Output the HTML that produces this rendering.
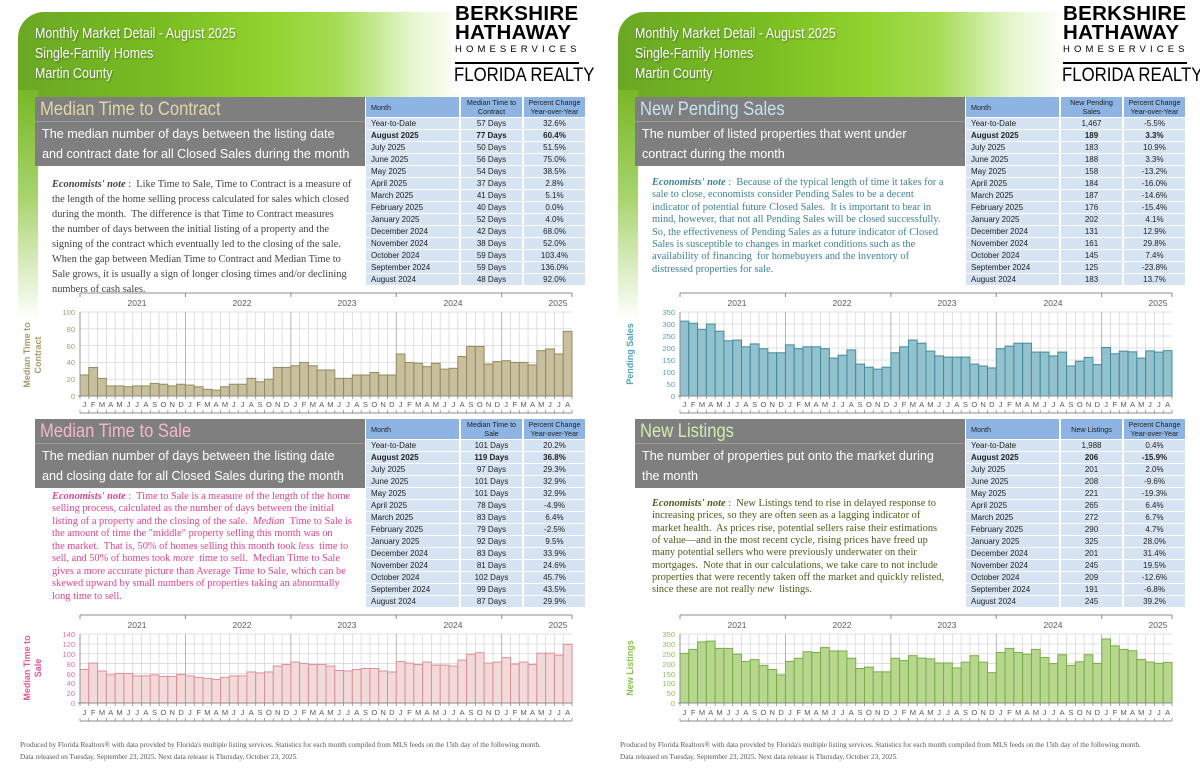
<!DOCTYPE html>
<html><head><meta charset="utf-8">
<style>
*{margin:0;padding:0;box-sizing:border-box}
body{width:1200px;height:776px;background:#fff;position:relative;overflow:hidden;font-family:"Liberation Sans",sans-serif}
.hdr{position:absolute;top:12px;width:445px;height:86px;border-top-left-radius:26px;
 background:linear-gradient(90deg,#6aa825 0%,#78bb22 30%,#8fd22c 55%,#a6dc55 72%,rgba(200,235,150,0.5) 88%,rgba(255,255,255,0) 100%)}
.strip{position:absolute;top:90px;width:20px;height:230px;background:linear-gradient(180deg,#78b826 0%,#a6d36a 45%,rgba(255,255,255,0) 100%)}
.htxt{position:absolute;top:24px;color:#fff;font-size:15px;line-height:20px;text-shadow:1px 1px 2px rgba(0,0,0,.35);transform:scaleX(0.83);transform-origin:0 0;white-space:nowrap}
.logo{position:absolute;top:0;width:145px;height:92px;background:#fff}
.logo .b{position:absolute;left:0;font-weight:bold;font-size:20.5px;letter-spacing:.3px;color:#000;line-height:20px;white-space:nowrap}
.logo .hs{position:absolute;left:0;top:44px;font-size:9.5px;letter-spacing:4.1px;color:#000;white-space:nowrap}
.logo .ln{position:absolute;left:0;top:62px;width:124px;height:1.5px;background:#000}
.logo .fr{position:absolute;left:-1px;top:64px;font-size:19.5px;color:#000;white-space:nowrap;transform:scaleX(0.86);transform-origin:0 0}
.gbox{position:absolute;width:330px;height:69px;background:#7f7f7f}
.gbox .t{position:absolute;left:5px;top:1px;font-size:19.5px;transform:scaleX(0.85);transform-origin:0 0;white-space:nowrap}
.gbox .tl{position:absolute;left:0;right:0;top:24px;height:1px;background:#999}
.gbox .s{position:absolute;left:7px;top:28px;color:#fff;font-size:12.6px;line-height:19.5px;white-space:nowrap}
table{position:absolute;border-collapse:separate;border-spacing:2px 1px;font-size:8px;color:#222}
td{background:#d6e3f3;height:11px;text-align:center;padding:0;line-height:11px;white-space:nowrap}
td:first-child{text-align:left;padding-left:5px;width:93px}
td:nth-child(2),td:nth-child(3){width:61px}
th{background:#8db4e2;font-weight:normal;height:20px;line-height:9px;font-size:7.2px;padding:0}
th:first-child{text-align:left;padding-left:5px}
tr.bd td{font-weight:bold}
.note{position:absolute;font-family:"Liberation Serif",serif;font-size:10.4px;white-space:nowrap}
.foot{position:absolute;font-family:"Liberation Serif",serif;font-size:7.2px;color:#555;line-height:12px;white-space:nowrap}
svg{position:absolute;left:0;top:0}
</style></head><body>

<div class="hdr" style="left:18px"></div>
<div class="strip" style="left:18px"></div>
<div class="hdr" style="left:618px"></div>
<div class="strip" style="left:618px"></div>

<div class="htxt" style="left:35px">Monthly Market Detail - August 2025<br>Single-Family Homes<br>Martin County</div>
<div class="htxt" style="left:635px">Monthly Market Detail - August 2025<br>Single-Family Homes<br>Martin County</div>

<div class="logo" style="left:452px"><div class="b" style="top:4px;left:3px">BERKSHIRE</div><div class="b" style="top:23px;left:3px">HATHAWAY</div><div class="hs" style="left:3px">HOMESERVICES</div><div class="ln" style="left:3px"></div><div class="fr" style="left:2px">FLORIDA REALTY</div></div>
<div class="logo" style="left:1060px"><div class="b" style="top:4px;left:3px">BERKSHIRE</div><div class="b" style="top:23px;left:3px">HATHAWAY</div><div class="hs" style="left:3px">HOMESERVICES</div><div class="ln" style="left:3px"></div><div class="fr" style="left:2px">FLORIDA REALTY</div></div>

<div class="gbox" style="left:35px;top:97px"><div class="t" style="color:#e0d6a6">Median Time to Contract</div><div class="tl"></div><div class="s">The median number of days between the listing date<br>and contract date for all Closed Sales during the month</div></div>
<div class="gbox" style="left:635px;top:97px"><div class="t" style="color:#c4e3f0">New Pending Sales</div><div class="tl"></div><div class="s">The number of listed properties that went under<br>contract during the month</div></div>
<div class="gbox" style="left:35px;top:419px"><div class="t" style="color:#f4b6d0">Median Time to Sale</div><div class="tl"></div><div class="s">The median number of days between the listing date<br>and closing date for all Closed Sales during the month</div></div>
<div class="gbox" style="left:635px;top:419px"><div class="t" style="color:#d3eab0">New Listings</div><div class="tl"></div><div class="s">The number of properties put onto the market during<br>the month</div></div>

<table style="left:364px;top:96px">
<tr><th>Month</th><th>Median Time to<br>Contract</th><th>Percent Change<br>Year-over-Year</th></tr>
<tr><td>Year-to-Date</td><td>57 Days</td><td>32.6%</td></tr>
<tr class="bd"><td>August 2025</td><td>77 Days</td><td>60.4%</td></tr>
<tr><td>July 2025</td><td>50 Days</td><td>51.5%</td></tr>
<tr><td>June 2025</td><td>56 Days</td><td>75.0%</td></tr>
<tr><td>May 2025</td><td>54 Days</td><td>38.5%</td></tr>
<tr><td>April 2025</td><td>37 Days</td><td>2.8%</td></tr>
<tr><td>March 2025</td><td>41 Days</td><td>5.1%</td></tr>
<tr><td>February 2025</td><td>40 Days</td><td>0.0%</td></tr>
<tr><td>January 2025</td><td>52 Days</td><td>4.0%</td></tr>
<tr><td>December 2024</td><td>42 Days</td><td>68.0%</td></tr>
<tr><td>November 2024</td><td>38 Days</td><td>52.0%</td></tr>
<tr><td>October 2024</td><td>59 Days</td><td>103.4%</td></tr>
<tr><td>September 2024</td><td>59 Days</td><td>136.0%</td></tr>
<tr><td>August 2024</td><td>48 Days</td><td>92.0%</td></tr>
</table>
<table style="left:964px;top:96px">
<tr><th>Month</th><th>New Pending Sales</th><th>Percent Change<br>Year-over-Year</th></tr>
<tr><td>Year-to-Date</td><td>1,467</td><td>-5.5%</td></tr>
<tr class="bd"><td>August 2025</td><td>189</td><td>3.3%</td></tr>
<tr><td>July 2025</td><td>183</td><td>10.9%</td></tr>
<tr><td>June 2025</td><td>188</td><td>3.3%</td></tr>
<tr><td>May 2025</td><td>158</td><td>-13.2%</td></tr>
<tr><td>April 2025</td><td>184</td><td>-16.0%</td></tr>
<tr><td>March 2025</td><td>187</td><td>-14.6%</td></tr>
<tr><td>February 2025</td><td>176</td><td>-15.4%</td></tr>
<tr><td>January 2025</td><td>202</td><td>4.1%</td></tr>
<tr><td>December 2024</td><td>131</td><td>12.9%</td></tr>
<tr><td>November 2024</td><td>161</td><td>29.8%</td></tr>
<tr><td>October 2024</td><td>145</td><td>7.4%</td></tr>
<tr><td>September 2024</td><td>125</td><td>-23.8%</td></tr>
<tr><td>August 2024</td><td>183</td><td>13.7%</td></tr>
</table>
<table style="left:364px;top:418px">
<tr><th>Month</th><th>Median Time to Sale</th><th>Percent Change<br>Year-over-Year</th></tr>
<tr><td>Year-to-Date</td><td>101 Days</td><td>20.2%</td></tr>
<tr class="bd"><td>August 2025</td><td>119 Days</td><td>36.8%</td></tr>
<tr><td>July 2025</td><td>97 Days</td><td>29.3%</td></tr>
<tr><td>June 2025</td><td>101 Days</td><td>32.9%</td></tr>
<tr><td>May 2025</td><td>101 Days</td><td>32.9%</td></tr>
<tr><td>April 2025</td><td>78 Days</td><td>-4.9%</td></tr>
<tr><td>March 2025</td><td>83 Days</td><td>6.4%</td></tr>
<tr><td>February 2025</td><td>79 Days</td><td>-2.5%</td></tr>
<tr><td>January 2025</td><td>92 Days</td><td>9.5%</td></tr>
<tr><td>December 2024</td><td>83 Days</td><td>33.9%</td></tr>
<tr><td>November 2024</td><td>81 Days</td><td>24.6%</td></tr>
<tr><td>October 2024</td><td>102 Days</td><td>45.7%</td></tr>
<tr><td>September 2024</td><td>99 Days</td><td>43.5%</td></tr>
<tr><td>August 2024</td><td>87 Days</td><td>29.9%</td></tr>
</table>
<table style="left:964px;top:418px">
<tr><th>Month</th><th>New Listings</th><th>Percent Change<br>Year-over-Year</th></tr>
<tr><td>Year-to-Date</td><td>1,988</td><td>0.4%</td></tr>
<tr class="bd"><td>August 2025</td><td>206</td><td>-15.9%</td></tr>
<tr><td>July 2025</td><td>201</td><td>2.0%</td></tr>
<tr><td>June 2025</td><td>208</td><td>-9.6%</td></tr>
<tr><td>May 2025</td><td>221</td><td>-19.3%</td></tr>
<tr><td>April 2025</td><td>265</td><td>6.4%</td></tr>
<tr><td>March 2025</td><td>272</td><td>6.7%</td></tr>
<tr><td>February 2025</td><td>290</td><td>4.7%</td></tr>
<tr><td>January 2025</td><td>325</td><td>28.0%</td></tr>
<tr><td>December 2024</td><td>201</td><td>31.4%</td></tr>
<tr><td>November 2024</td><td>245</td><td>19.5%</td></tr>
<tr><td>October 2024</td><td>209</td><td>-12.6%</td></tr>
<tr><td>September 2024</td><td>191</td><td>-6.8%</td></tr>
<tr><td>August 2024</td><td>245</td><td>39.2%</td></tr>
</table>

<div class="note" style="left:52px;top:177px;line-height:15px;color:#444">
<b><i>Economists' note</i></b> :&nbsp; Like Time to Sale, Time to Contract is a measure of<br>
the length of the home selling process calculated for sales which closed<br>
during the month.&nbsp; The difference is that Time to Contract measures<br>
the number of days between the initial listing of a property and the<br>
signing of the contract which eventually led to the closing of the sale.<br>
When the gap between Median Time to Contract and Median Time to<br>
Sale grows, it is usually a sign of longer closing times and/or declining<br>
numbers of cash sales.</div>
<div class="note" style="left:652px;top:177px;line-height:12.4px;color:#3d8291">
<b><i>Economists' note</i></b> :&nbsp; Because of the typical length of time it takes for a<br>
sale to close, economists consider Pending Sales to be a decent<br>
indicator of potential future Closed Sales.&nbsp; It is important to bear in<br>
mind, however, that not all Pending Sales will be closed successfully.<br>
So, the effectiveness of Pending Sales as a future indicator of Closed<br>
Sales is susceptible to changes in market conditions such as the<br>
availability of financing&nbsp; for homebuyers and the inventory of<br>
distressed properties for sale.</div>
<div class="note" style="left:52px;top:491px;line-height:12.45px;color:#e0458f">
<b><i>Economists' note</i></b> :&nbsp; Time to Sale is a measure of the length of the home<br>
selling process, calculated as the number of days between the initial<br>
listing of a property and the closing of the sale.&nbsp; <i>Median</i>&nbsp; Time to Sale is<br>
the amount of time the "middle" property selling this month was on<br>
the market.&nbsp; That is, 50% of homes selling this month took <i>less</i>&nbsp; time to<br>
sell, and 50% of homes took <i>more</i>&nbsp; time to sell.&nbsp; Median Time to Sale<br>
gives a more accurate picture than Average Time to Sale, which can be<br>
skewed upward by small numbers of properties taking an abnormally<br>
long time to sell.</div>
<div class="note" style="left:652px;top:498px;line-height:12.35px;color:#4f5a1c">
<b><i>Economists' note</i></b> :&nbsp; New Listings tend to rise in delayed response to<br>
increasing prices, so they are often seen as a lagging indicator of<br>
market health.&nbsp; As prices rise, potential sellers raise their estimations<br>
of value—and in the most recent cycle, rising prices have freed up<br>
many potential sellers who were previously underwater on their<br>
mortgages.&nbsp; Note that in our calculations, we take care to not include<br>
properties that were recently taken off the market and quickly relisted,<br>
since these are not really <i>new</i>&nbsp; listings.</div>

<div class="foot" style="left:20px;top:739px">Produced by Florida Realtors® with data provided by Florida's multiple listing services. Statistics for each month compiled from MLS feeds on the 15th day of the following month.<br>Data released on Tuesday, September 23, 2025. Next data release is Thursday, October 23, 2025.</div>
<div class="foot" style="left:620px;top:739px">Produced by Florida Realtors® with data provided by Florida's multiple listing services. Statistics for each month compiled from MLS feeds on the 15th day of the following month.<br>Data released on Tuesday, September 23, 2025. Next data release is Thursday, October 23, 2025.</div>

<svg width="1200" height="776" viewBox="0 0 1200 776" font-family="Liberation Sans, sans-serif">
<g id="c1" transform="translate(80,312)"></g>
<g id="c2" transform="translate(680,312)"></g>
<g id="c3" transform="translate(80,634)"></g>
<g id="c4" transform="translate(680,634)"></g>

<g font-size="8.5" fill="#595959" text-anchor="middle">
<text x="137" y="306">2021</text><text x="242" y="306">2022</text><text x="347" y="306">2023</text><text x="453" y="306">2024</text><text x="558" y="306">2025</text>
<text x="737" y="306">2021</text><text x="842" y="306">2022</text><text x="947" y="306">2023</text><text x="1053" y="306">2024</text><text x="1158" y="306">2025</text>
<text x="137" y="628">2021</text><text x="242" y="628">2022</text><text x="347" y="628">2023</text><text x="453" y="628">2024</text><text x="558" y="628">2025</text>
<text x="737" y="628">2021</text><text x="842" y="628">2022</text><text x="947" y="628">2023</text><text x="1053" y="628">2024</text><text x="1158" y="628">2025</text>
</g>

<g font-size="7.5" fill="#595959" text-anchor="middle">
<text transform="translate(80,407)" x="4.39 13.18 21.96 30.75 39.54 48.32 57.11 65.89 74.68 83.46 92.25 101.04 109.82 118.61 127.39 136.18 144.96 153.75 162.54 171.32 180.11 188.89 197.68 206.46 215.25 224.04 232.82 241.61 250.39 259.18 267.96 276.75 285.54 294.32 303.11 311.89 320.68 329.46 338.25 347.04 355.82 364.61 373.39 382.18 390.96 399.75 408.54 417.32 426.11 434.89 443.68 452.46 461.25 470.04 478.82 487.61">JFMAMJJASONDJFMAMJJASONDJFMAMJJASONDJFMAMJJASONDJFMAMJJA</text>
<text transform="translate(680,407)" x="4.39 13.18 21.96 30.75 39.54 48.32 57.11 65.89 74.68 83.46 92.25 101.04 109.82 118.61 127.39 136.18 144.96 153.75 162.54 171.32 180.11 188.89 197.68 206.46 215.25 224.04 232.82 241.61 250.39 259.18 267.96 276.75 285.54 294.32 303.11 311.89 320.68 329.46 338.25 347.04 355.82 364.61 373.39 382.18 390.96 399.75 408.54 417.32 426.11 434.89 443.68 452.46 461.25 470.04 478.82 487.61">JFMAMJJASONDJFMAMJJASONDJFMAMJJASONDJFMAMJJASONDJFMAMJJA</text>
<text transform="translate(80,715)" x="4.39 13.18 21.96 30.75 39.54 48.32 57.11 65.89 74.68 83.46 92.25 101.04 109.82 118.61 127.39 136.18 144.96 153.75 162.54 171.32 180.11 188.89 197.68 206.46 215.25 224.04 232.82 241.61 250.39 259.18 267.96 276.75 285.54 294.32 303.11 311.89 320.68 329.46 338.25 347.04 355.82 364.61 373.39 382.18 390.96 399.75 408.54 417.32 426.11 434.89 443.68 452.46 461.25 470.04 478.82 487.61">JFMAMJJASONDJFMAMJJASONDJFMAMJJASONDJFMAMJJASONDJFMAMJJA</text>
<text transform="translate(680,715)" x="4.39 13.18 21.96 30.75 39.54 48.32 57.11 65.89 74.68 83.46 92.25 101.04 109.82 118.61 127.39 136.18 144.96 153.75 162.54 171.32 180.11 188.89 197.68 206.46 215.25 224.04 232.82 241.61 250.39 259.18 267.96 276.75 285.54 294.32 303.11 311.89 320.68 329.46 338.25 347.04 355.82 364.61 373.39 382.18 390.96 399.75 408.54 417.32 426.11 434.89 443.68 452.46 461.25 470.04 478.82 487.61">JFMAMJJASONDJFMAMJJASONDJFMAMJJASONDJFMAMJJASONDJFMAMJJA</text>
</g>

<g font-size="7.5" text-anchor="end">
<g fill="#a89b6a"><text x="75" y="399">0</text><text x="75" y="382">20</text><text x="75" y="365">40</text><text x="75" y="349">60</text><text x="75" y="332">80</text><text x="75" y="315">100</text></g>
<g fill="#4fa3b8"><text x="675" y="399">0</text><text x="675" y="387">50</text><text x="675" y="375">100</text><text x="675" y="363">150</text><text x="675" y="351">200</text><text x="675" y="339">250</text><text x="675" y="327">300</text><text x="675" y="315">350</text></g>
<g fill="#ea6aa8"><text x="75" y="706">0</text><text x="75" y="696">20</text><text x="75" y="686">40</text><text x="75" y="677">60</text><text x="75" y="667">80</text><text x="75" y="657">100</text><text x="75" y="647">120</text><text x="75" y="637">140</text></g>
<g fill="#8cc152"><text x="675" y="706">0</text><text x="675" y="696">50</text><text x="675" y="686">100</text><text x="675" y="677">150</text><text x="675" y="667">200</text><text x="675" y="657">250</text><text x="675" y="647">300</text><text x="675" y="637">350</text></g>
</g>

<g font-size="9" font-weight="bold" text-anchor="middle">
<text transform="translate(30,355) rotate(-90)" fill="#a89b6a"><tspan x="0" y="0">Median Time to</tspan><tspan x="0" y="11">Contract</tspan></text>
<text transform="translate(633,354) rotate(-90)" fill="#4fa3b8">Pending Sales</text>
<text transform="translate(30,668) rotate(-90)" fill="#e8559c"><tspan x="0" y="0">Median Time to</tspan><tspan x="0" y="11">Sale</tspan></text>
<text transform="translate(633,668) rotate(-90)" fill="#8cc152">New Listings</text>
</g>
</svg>

<script>
function chart(id,data,max,step,h,fill,stroke,yr,br){
 var g=document.getElementById(id),w=492/56,s='';
 for(var v=0;v<=max;v+=step){var y=h-v/max*h;s+='<line x1="0" x2="492" y1="'+y+'" y2="'+y+'" stroke="#d9d9d9" stroke-width="0.8"/>';}
 for(var i=1;i<56;i++){if(i%12)s+='<line x1="'+i*w+'" x2="'+i*w+'" y1="0" y2="'+h+'" stroke="#d9d9d9" stroke-width="0.8"/>';}
 for(var i=0;i<=56;i+=12){s+='<line x1="'+i*w+'" x2="'+i*w+'" y1="0" y2="'+h+'" stroke="#a6a6a6" stroke-width="0.8"/>';}
 for(var i=0;i<56;i++){var bh=data[i]/max*h;s+='<rect x="'+(i*w)+'" y="'+(h-bh)+'" width="'+w+'" height="'+bh+'" fill="'+fill+'" stroke="'+stroke+'" stroke-width="1"/>';}
 s+='<line x1="-2" x2="492" y1="'+h+'" y2="'+h+'" stroke="#8c8c8c" stroke-width="1"/>';
 s+='<line x1="0" x2="0" y1="0" y2="'+h+'" stroke="#8c8c8c" stroke-width="0.8"/>';
 for(var i=0;i<=56;i++){s+='<line x1="'+i*w+'" x2="'+i*w+'" y1="'+h+'" y2="'+(h+3)+'" stroke="#8c8c8c" stroke-width="0.8"/>';}
 s+='<line x1="0" x2="492" y1="'+yr+'" y2="'+yr+'" stroke="#8c8c8c" stroke-width="1"/>';
 for(var i=0;i<=56;i+=12){s+='<line x1="'+i*w+'" x2="'+i*w+'" y1="'+yr+'" y2="'+(yr+4)+'" stroke="#8c8c8c" stroke-width="1"/>';}
 s+='<line x1="492" x2="492" y1="'+yr+'" y2="'+(yr+4)+'" stroke="#8c8c8c" stroke-width="1"/>';
 s+='<line x1="0" x2="492" y1="'+br+'" y2="'+br+'" stroke="#8c8c8c" stroke-width="1"/>';
 for(var i=0;i<=56;i++){s+='<line x1="'+i*w+'" x2="'+i*w+'" y1="'+(br-3)+'" y2="'+br+'" stroke="#8c8c8c" stroke-width="0.8"/>';}
 g.innerHTML=s;
}
var d1=[25,34,21,12,12,11,12,12,15,14,12,14,13,11,8,7,11,14,14,21,17,20,34,34,36,40,36,31,31,21,21,25,25,28,25,25,50,40,39,35,39,32,33,47,59,59,38,41,42,40,40,37,54,56,50,77];
var d2=[312,303,278,300,270,230,233,205,217,197,180,180,213,197,205,205,197,158,170,192,133,120,112,120,180,205,233,220,187,167,162,162,162,133,125,117,197,208,220,220,183,183,167,183,125,145,161,131,202,176,187,184,158,188,183,189];
var d3=[68,81,65,57,60,60,55,55,57,54,54,58,55,52,50,48,52,55,55,63,61,63,75,78,83,80,78,78,75,66,65,68,70,70,65,63,84,81,78,83,77,77,75,87,99,102,81,83,92,79,83,78,101,101,97,119];
var d4=[252,272,310,314,277,277,248,211,220,191,170,142,211,227,260,256,281,264,264,227,175,182,158,158,227,215,240,228,224,203,203,178,207,240,207,154,256,277,256,248,272,231,200,245,191,209,245,201,325,290,272,265,221,208,201,206];
chart('c1',d1,100,20,84,'#c8bf9c','#938a64',-19,101);
chart('c2',d2,350,50,84,'#94c1ce','#3f8c9e',-19,101);
chart('c3',d3,140,20,69,'#f3dada','#dd8f99',-19,87);
chart('c4',d4,350,50,69,'#b7d78f','#79ad47',-19,87);
</script>
</body></html>
